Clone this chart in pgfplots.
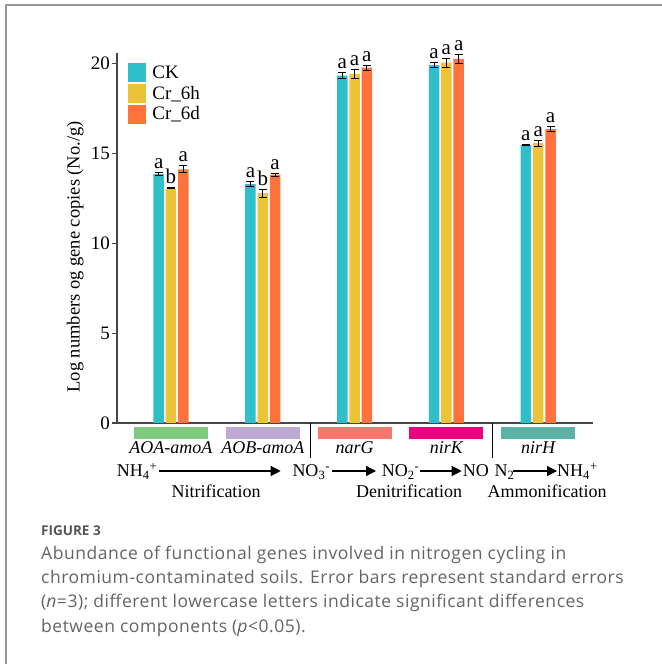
\documentclass[border=0pt]{standalone}
\usepackage{pgfplots}
\pgfplotsset{compat=1.18}
\usepackage{pgfplotstable}
\usepackage{fontspec}
\setmainfont{Liberation Serif}
\newfontfamily\capfont[LetterSpace=3]{Open Sans}
\newfontfamily\capheadfont{Open Sans}
\usetikzlibrary{arrows.meta}

\definecolor{ckc}{RGB}{47,191,200}
\definecolor{hc}{RGB}{236,196,55}
\definecolor{dc}{RGB}{255,114,60}
\definecolor{axc}{RGB}{70,70,70}
\definecolor{gA}{RGB}{128,201,128}
\definecolor{gB}{RGB}{188,169,212}
\definecolor{gC}{RGB}{248,119,110}
\definecolor{gD}{RGB}{236,0,127}
\definecolor{gE}{RGB}{91,179,166}
\definecolor{capc}{RGB}{100,100,100}
\definecolor{framec}{RGB}{150,150,150}

\newcommand{\setfs}[1]{\fontsize{#1bp}{#1bp}\selectfont}

% log copies, standard error, significance letter
\pgfplotstableread{
x y e l
0 13.85 0.07 a
1 13.29 0.12 a
2 19.32 0.16 a
3 19.91 0.14 a
4 15.46 0.05 a
}\ck
\pgfplotstableread{
x y e l
0 13.05 0.03 b
1 12.78 0.22 b
2 19.41 0.24 a
3 20.04 0.24 a
4 15.56 0.18 a
}\crh
\pgfplotstableread{
x y e l
0 14.11 0.19 a
1 13.81 0.07 a
2 19.76 0.13 a
3 20.25 0.26 a
4 16.35 0.14 a
}\crd

\pgfplotsset{
  genebar/.style={
    draw=none, bar width=10.5bp,
    visualization depends on={\thisrow{e} \as \err},
    nodes near coords, point meta=explicit symbolic,
    nodes near coords style={anchor=base, font=\setfs{21}, inner sep=0pt,
      yshift=\err*17.98bp+4bp},
    error bars/.cd, y dir=both, y explicit,
    error bar style={black, line width=0.9bp},
    error mark options={black, line width=0.9bp, mark size=4bp, rotate=90},
  },
}

\begin{document}
\begin{tikzpicture}
\useasboundingbox (0,0) rectangle (662bp,664bp);
\draw[framec, line width=1.5bp] (6bp,0) -- (6bp,659bp) -- (662bp,659bp);

\begin{axis}[
  at={(117bp,241bp)}, anchor=south west,
  scale only axis, width=476bp, height=370bp,
  xmin=-0.588, xmax=4.597, ymin=0, ymax=20.58,
  axis x line=bottom, axis y line=left,
  axis line style={-, axc, line width=1.2bp},
  xtick=\empty, ytick={0,5,10,15,20},
  tick align=outside, major tick length=5bp,
  ytick style={axc, line width=1.2bp},
  /pgf/number format/assume math mode=true,
  yticklabel style={font=\setfs{19}, inner xsep=2bp},
  ylabel={Log numbers og gene copies (No./g)},
  ylabel style={at={(axis description cs:-0.088,0.449)}, anchor=center, font=\setfs{18.5}},
  clip=false, ybar,
  legend style={at={(rel axis cs:0.023,0.973)}, anchor=north west, draw=none, fill=none,
    inner sep=0pt, row sep=1.7bp, font=\setfs{19},
    nodes={inner xsep=6bp, inner ysep=0pt, anchor=west}},
  legend cell align=left,
  legend image code/.code={\fill[#1] (0bp,-9.5bp) rectangle (18.3bp,9.5bp);},
]
\addplot[fill=ckc, bar shift=-12.3bp, genebar] table[x=x, y=y, y error=e, meta=l] {\ck};
\addplot[fill=hc, bar shift=0bp, genebar] table[x=x, y=y, y error=e, meta=l] {\crh};
\addplot[fill=dc, bar shift=12.3bp, genebar] table[x=x, y=y, y error=e, meta=l] {\crd};
\legend{CK, Cr\_6h, Cr\_6d}

% gene bands under the axis
\fill[gA] (axis cs:-0.403,-0.22) rectangle (axis cs:0.403,-0.89);
\fill[gB] (axis cs:0.597,-0.22) rectangle (axis cs:1.403,-0.89);
\fill[gC] (axis cs:1.597,-0.22) rectangle (axis cs:2.403,-0.89);
\fill[gD] (axis cs:2.597,-0.22) rectangle (axis cs:3.403,-0.89);
\fill[gE] (axis cs:3.597,-0.22) rectangle (axis cs:4.403,-0.89);
\draw[black, line width=1bp] (axis cs:1.522,0) -- (axis cs:1.522,-1.95);
\draw[black, line width=1bp] (axis cs:3.50,0) -- (axis cs:3.50,-1.95);
\begin{scope}[every node/.style={anchor=base, inner sep=0pt, font=\setfs{18}\itshape}]
\node at (axis cs:0,-1.67) {AOA-amoA};
\node at (axis cs:1,-1.67) {AOB-amoA};
\node at (axis cs:2,-1.67) {narG};
\node at (axis cs:3,-1.67) {nirK};
\node at (axis cs:4,-1.67) {nirH};
\end{scope}
\end{axis}

% nitrogen transformation pathway
\begin{scope}[every node/.style={anchor=base west, inner sep=0pt, font=\setfs{18}}]
\node at (116.7bp,187bp) {NH\textsubscript{4}\textsuperscript{+}};
\node at (292.3bp,187bp) {NO\textsubscript{3}\textsuperscript{-}};
\node at (381.7bp,187bp) {NO\textsubscript{2}\textsuperscript{-}};
\node at (462.7bp,187bp) {NO};
\node at (494.3bp,187bp) {N\textsubscript{2}};
\node at (557bp,187bp) {NH\textsubscript{4}\textsuperscript{+}};
\end{scope}
\begin{scope}[line width=1.2bp, -{Triangle[length=10bp,width=10bp]}]
\draw (159.3bp,193bp) -- (280.7bp,193bp);
\draw (331.7bp,193bp) -- (376bp,193bp);
\draw (420bp,193bp) -- (461.7bp,193bp);
\draw (513bp,193bp) -- (557bp,193bp);
\end{scope}
\begin{scope}[every node/.style={anchor=base, inner sep=0pt, font=\setfs{18}}]
\node at (216bp,166bp) {Nitrification};
\node at (409bp,166bp) {Denitrification};
\node at (547bp,166bp) {Ammonification};
\end{scope}

% caption
\begin{scope}[every node/.style={anchor=base west, inner sep=0pt, text=capc}]
\node[font=\capheadfont\bfseries\setfs{13.5}, text=capc!85!black] at (41bp,128bp) {FIGURE 3};
\node[font=\capfont\setfs{17.5}] at (41bp,104bp) {Abundance of functional genes involved in nitrogen cycling in};
\node[font=\capfont\setfs{17.5}] at (41bp,80bp) {chromium-contaminated soils. Error bars represent standard errors};
\node[font=\capfont\setfs{17.5}] at (41bp,56bp) {(\textit{n}=3); different lowercase letters indicate significant differences};
\node[font=\capfont\setfs{17.5}] at (41bp,32bp) {between components (\textit{p}<0.05).};
\end{scope}
\end{tikzpicture}
\end{document}
